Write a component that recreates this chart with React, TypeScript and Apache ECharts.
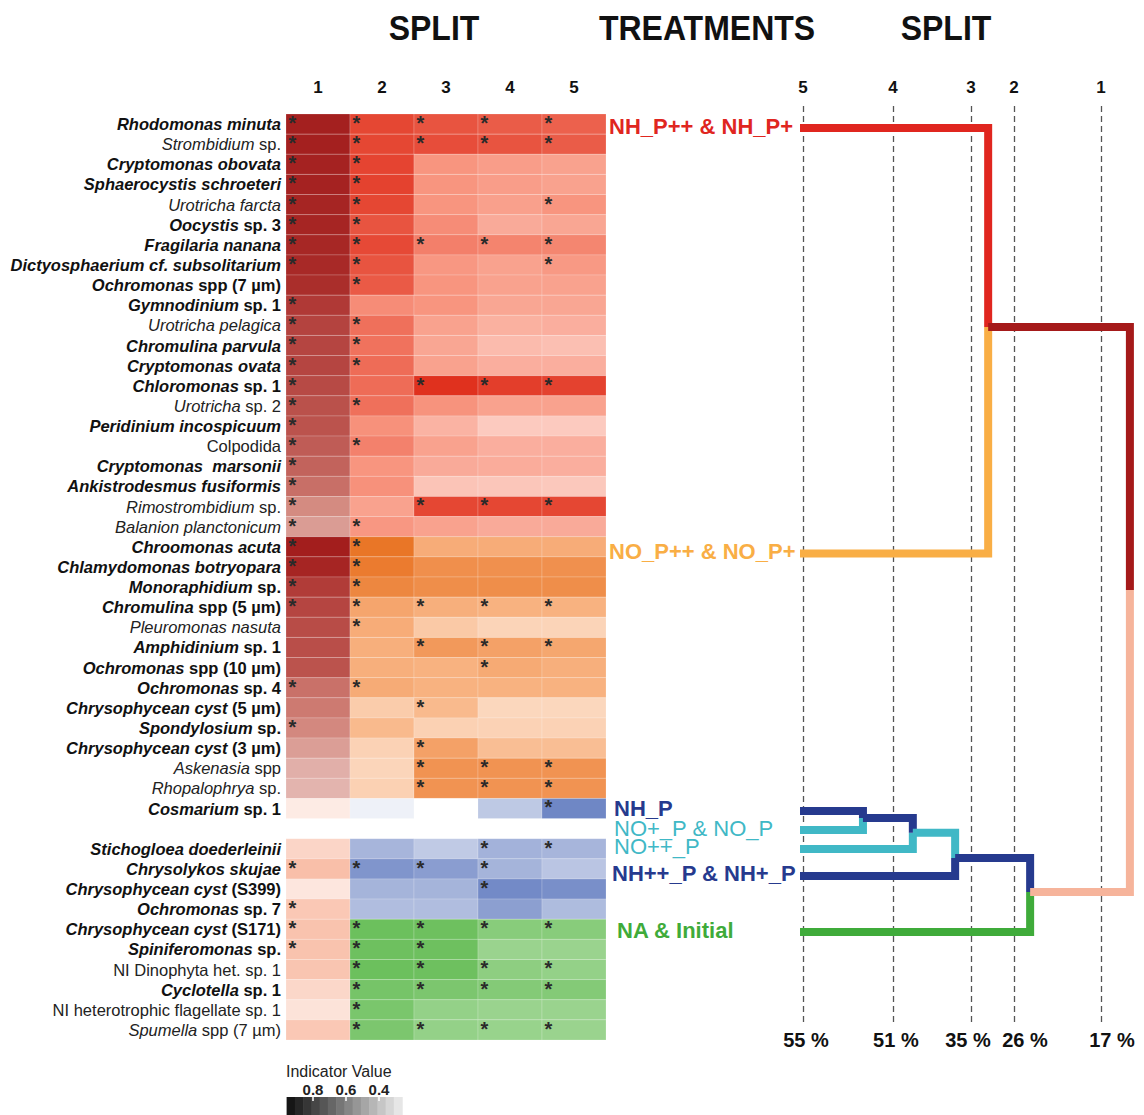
import React, { useEffect, useRef } from 'react';
import * as echarts from 'echarts';

// ---------------- DATA ----------------
const splitColumns = ['1', '2', '3', '4', '5'];

// [italic part, roman part, bold]
const taxa: [string, string, boolean][] = [
  ['Rhodomonas minuta', '', true],
  ['Strombidium', ' sp.', false],
  ['Cryptomonas obovata', '', true],
  ['Sphaerocystis schroeteri', '', true],
  ['Urotricha farcta', '', false],
  ['Oocystis', ' sp. 3', true],
  ['Fragilaria nanana', '', true],
  ['Dictyosphaerium cf. subsolitarium', '', true],
  ['Ochromonas', ' spp (7 µm)', true],
  ['Gymnodinium', ' sp. 1', true],
  ['Urotricha pelagica', '', false],
  ['Chromulina parvula', '', true],
  ['Cryptomonas ovata', '', true],
  ['Chloromonas', ' sp. 1', true],
  ['Urotricha', ' sp. 2', false],
  ['Peridinium incospicuum', '', true],
  ['', 'Colpodida', false],
  ['Cryptomonas  marsonii', '', true],
  ['Ankistrodesmus fusiformis', '', true],
  ['Rimostrombidium', ' sp.', false],
  ['Balanion planctonicum', '', false],
  ['Chroomonas acuta', '', true],
  ['Chlamydomonas botryopara', '', true],
  ['Monoraphidium', ' sp.', true],
  ['Chromulina', ' spp (5 µm)', true],
  ['Pleuromonas nasuta', '', false],
  ['Amphidinium', ' sp. 1', true],
  ['Ochromonas', ' spp (10 µm)', true],
  ['Ochromonas', ' sp. 4', true],
  ['Chrysophycean cyst', ' (5 µm)', true],
  ['Spondylosium', ' sp.', true],
  ['Chrysophycean cyst', ' (3 µm)', true],
  ['Askenasia', ' spp', false],
  ['Rhopalophrya', ' sp.', false],
  ['Cosmarium', ' sp. 1', true],
  ['', '', false],
  ['Stichogloea doederleinii', '', true],
  ['Chrysolykos skujae', '', true],
  ['Chrysophycean cyst', ' (S399)', true],
  ['Ochromonas', ' sp. 7', true],
  ['Chrysophycean cyst', ' (S171)', true],
  ['Spiniferomonas', ' sp.', true],
  ['', 'NI Dinophyta het. sp. 1', false],
  ['Cyclotella', ' sp. 1', true],
  ['', 'NI heterotrophic flagellate sp. 1', false],
  ['Spumella', ' spp (7 µm)', false],
];

// treatment cluster of each row: R = NH_P, O = NO_P, B = NH/NO_P, G = NA & Initial
const rowCluster = 'RRRRRRRRRR' + 'RRRRRRRRRR' + 'R' + 'OOOOOOOOOO' + 'OOO' + 'BBBBBB' + 'GGGGGG';

// indicator values per split column
const split1 = [0.94, 0.94, 0.93, 0.93, 0.92, 0.92, 0.91, 0.9, 0.88, 0.83, 0.79, 0.78, 0.78, 0.76, 0.73, 0.72, 0.68, 0.65, 0.6, 0.48, 0.41,
  0.95, 0.92, 0.82, 0.78, 0.75, 0.74, 0.72, 0.59, 0.55, 0.49, 0.4, 0.33, 0.31,
  0.2, null, 0.42, 0.64, 0.25, 0.55, 0.6, 0.6, 0.58, 0.4, 0.28, 0.55];
const split2 = [0.86, 0.86, 0.87, 0.88, 0.86, 0.8, 0.85, 0.8, 0.77, 0.54, 0.67, 0.66, 0.69, 0.69, 0.67, 0.52, 0.59, 0.5, 0.52, 0.44, 0.49,
  0.93, 0.89, 0.81, 0.59, 0.54, 0.52, 0.52, 0.55, 0.33, 0.45, 0.29, 0.27, 0.3,
  0.09, null, 0.46, 0.66, 0.47, 0.41, 0.9, 0.89, 0.9, 0.85, 0.83, 0.82];
const split3 = [0.8, 0.83, 0.5, 0.5, 0.5, 0.54, 0.6, 0.49, 0.5, 0.5, 0.44, 0.42, 0.44, 0.96, 0.51, 0.36, 0.44, 0.4, 0.28, 0.86, 0.44,
  0.54, 0.75, 0.76, 0.52, 0.35, 0.68, 0.5, 0.5, 0.45, 0.3, 0.62, 0.72, 0.72,
  0, null, 0.33, 0.61, 0.47, 0.41, 0.89, 0.89, 0.89, 0.82, 0.7, 0.7];
const split4 = [0.76, 0.8, 0.46, 0.46, 0.45, 0.4, 0.58, 0.44, 0.44, 0.42, 0.37, 0.32, 0.38, 0.9, 0.44, 0.25, 0.38, 0.39, 0.27, 0.86, 0.4,
  0.54, 0.74, 0.76, 0.5, 0.28, 0.62, 0.56, 0.5, 0.26, 0.29, 0.42, 0.72, 0.72,
  0.34, null, 0.48, 0.47, 0.73, 0.6, 0.76, 0.67, 0.73, 0.78, 0.67, 0.68];
const split5 = [0.74, 0.76, 0.44, 0.44, 0.5, 0.42, 0.57, 0.48, 0.44, 0.42, 0.38, 0.3, 0.38, 0.88, 0.44, 0.25, 0.38, 0.38, 0.26, 0.86, 0.4,
  0.54, 0.74, 0.76, 0.5, 0.28, 0.58, 0.52, 0.5, 0.26, 0.29, 0.42, 0.72, 0.72,
  0.75, null, 0.46, 0.36, 0.7, 0.42, 0.76, 0.67, 0.7, 0.78, 0.67, 0.67];

// significant indicator (asterisk) columns per row
const significant = ['12345', '12345', '12', '12', '125', '12', '12345', '125', '2', '1',
  '12', '12', '12', '1345', '12', '1', '12', '1', '1', '1345', '12',
  '12', '12', '12', '12345', '2', '345', '4', '12', '3', '1', '3', '345', '345',
  '5', '', '45', '1234', '4', '1', '12345', '123', '2345', '2345', '2', '2345'];

// dendrogram of treatments (height = linkage distance, row = vertical position in heatmap rows)
const dendroLeaves = [
  { id: 'nhp', label: 'NH_P++ & NH_P+', row: 0.7, color: '#e0261f', parent: 'E' },
  { id: 'nop', label: 'NO_P++ & NO_P+', row: 21.83, color: '#f9ae45', parent: 'E' },
  { id: 'nh', label: 'NH_P', row: 34.62, color: '#263a8e', parent: 'A' },
  { id: 'no', label: 'NO+_P & NO_P', row: 35.57, color: '#40b8c6', parent: 'A' },
  { id: 'nopp', label: 'NO++_P', row: 36.51, color: '#40b8c6', parent: 'B' },
  { id: 'nhpp', label: 'NH++_P & NH+_P', row: 37.85, color: '#263a8e', parent: 'C' },
  { id: 'na', label: 'NA & Initial', row: 40.64, color: '#3fab3a', parent: 'D' },
];
const dendroMerges = [
  { id: 'A', height: 18.3, row: 34.97, color: '#263a8e', parent: 'B' },
  { id: 'B', height: 32.8, row: 35.7, color: '#40b8c6', parent: 'C' },
  { id: 'C', height: 45.1, row: 36.96, color: '#263a8e', parent: 'D' },
  { id: 'D', height: 66.9, row: 38.65, color: '#f6b49b', parent: 'F' },
  { id: 'E', height: 54.7, row: 10.58, color: '#a51a1a', parent: 'F' },
  { id: 'F', height: 95.9, row: 23.65, color: '', parent: '' },
];

const splitNumbers = ['5', '4', '3', '2', '1'];
const splitSimilarity = ['55 %', '51 %', '35 %', '26 %', '17 %'];
const splitHeights = [0.87, 27.0, 49.7, 62.2, 87.5];

const legendTicks = [0.8, 0.6, 0.4];
const legendSteps = [0.96, 0.91, 0.86, 0.81, 0.76, 0.71, 0.66, 0.61, 0.56, 0.51, 0.46, 0.41, 0.36, 0.31];

// ---------------- STYLE / LAYOUT ----------------
// colour ramps: [colour at indicator value 0.5, colour at 1.0] (0 = white)
const ramps: Record<string, number[][]> = {
  D: [[210, 134, 124], [158, 18, 18]],
  S: [[250, 205, 188], [245, 154, 120]],
  R: [[248, 149, 127], [222, 40, 22]],
  O: [[248, 178, 128], [231, 108, 24]],
  B: [[159, 175, 216], [63, 95, 178]],
  G: [[188, 226, 178], [88, 183, 72]],
};
const leafLabelDx = [-191, -191, -186, -186, -186, -188, -183];
const leafLabelWeight = ['bold', 'bold', 'bold', 'normal', 'normal', 'bold', 'bold'];
const leafLabelSize = [22, 22, 22, 22, 22, 22, 22];
const percentLabelDx = [3, 3, -3, 11, 11];
const FONT = '"Liberation Sans", Arial, Helvetica, sans-serif';

const HEAT_LEFT = 286, HEAT_TOP = 114, HEAT_W = 320, HEAT_H = 926;
const DEN_LEFT = 800, DEN_W = 344, DEN_TOP = 60, DEN_H = 1000;
const rowPx = HEAT_H / taxa.length;
const pxToRow = (py: number) => (py - HEAT_TOP) / rowPx;

function rampColor(key: string, t: number) {
  const [mid, full] = ramps[key];
  let c: number[];
  if (t <= 0.5) {
    const f = t / 0.5;
    c = mid.map((m) => 255 + (m - 255) * f);
  } else {
    const f = (t - 0.5) / 0.5;
    c = mid.map((m, i) => m + (full[i] - m) * f);
  }
  return `rgb(${Math.round(c[0])},${Math.round(c[1])},${Math.round(c[2])})`;
}

function buildOption() {
  const cols = [split1, split2, split3, split4, split5];
  const heatData: any[] = [];
  const heatColors: string[] = [];
  const heatStars: boolean[] = [];
  taxa.forEach((_, r) => {
    cols.forEach((col, c) => {
      const v = col[r];
      if (v === null || v === undefined) return;
      const cl = rowCluster[r];
      const key = c === 0 ? (cl === 'R' || cl === 'O' ? 'D' : 'S') : cl;
      heatData.push([c, r, v]);
      heatColors.push(rampColor(key, v));
      heatStars.push(significant[r].indexOf(String(c + 1)) >= 0);
    });
  });

  const renderCell = (params: any, api: any) => {
    const center = api.coord([api.value(0), api.value(1)]);
    const size = api.size([1, 1]);
    const x0 = center[0] - size[0] / 2;
    const y0 = center[1] - size[1] / 2;
    const children: any[] = [
      {
        type: 'rect',
        shape: { x: x0, y: y0, width: size[0], height: size[1] },
        style: { fill: heatColors[params.dataIndex], stroke: 'rgba(255,255,255,0.3)', lineWidth: 0.6 },
      },
    ];
    if (heatStars[params.dataIndex]) {
      children.push({
        type: 'text',
        x: x0 + 2.5,
        y: y0 - 1,
        style: { text: '*', fontSize: 20, fontWeight: 'bold', fontFamily: FONT, fill: '#2a2a2a', align: 'left', verticalAlign: 'top' },
      });
    }
    return { type: 'group', children };
  };

  const nodes: Record<string, any> = {};
  dendroLeaves.forEach((l) => (nodes[l.id] = { ...l, height: 0 }));
  dendroMerges.forEach((m) => (nodes[m.id] = m));
  const segs: any[] = [];
  [...dendroLeaves.map((l) => l.id), ...dendroMerges.map((m) => m.id)].forEach((id) => {
    const n = nodes[id];
    if (!n.parent) return;
    const p = nodes[n.parent];
    segs.push({
      coords: [[n.height, n.row], [p.height, n.row], [p.height, p.row]],
      lineStyle: { color: n.color },
    });
  });

  const dashed = splitHeights.map((h) => ({ coords: [[h, pxToRow(106)], [h, pxToRow(1022)]] }));

  const splitLabelData = [
    ...splitHeights.map((h, i) => ({
      value: [h, pxToRow(87)],
      label: { show: true, formatter: splitNumbers[i], fontSize: 17, fontWeight: 'bold', color: '#111', position: 'inside' },
    })),
    ...splitHeights.map((h, i) => ({
      value: [h, pxToRow(1040)],
      label: { show: true, formatter: splitSimilarity[i], fontSize: 20, fontWeight: 'bold', color: '#111', position: 'inside', offset: [percentLabelDx[i], 0] },
    })),
  ];

  const leafLabelData = dendroLeaves.map((l, i) => ({
    value: [0, l.row],
    label: {
      show: true,
      formatter: l.label,
      position: [leafLabelDx[i], -2],
      align: 'left',
      verticalAlign: 'middle',
      color: l.color,
      fontSize: leafLabelSize[i],
      fontWeight: leafLabelWeight[i],
    },
  }));

  const lx = (v: number) => 313 + (0.8 - v) * 165;
  const legendGraphics: any[] = [
    { type: 'text', x: 286, y: 1071, style: { text: 'Indicator Value', fontSize: 16, fontFamily: FONT, fill: '#222', verticalAlign: 'middle', align: 'left' } },
    ...legendTicks.map((t) => ({
      type: 'text', x: lx(t), y: 1089, style: { text: t.toFixed(1), fontSize: 15, fontWeight: 'bold', fontFamily: FONT, fill: '#222', align: 'center', verticalAlign: 'middle' },
    })),
    ...legendSteps.map((s) => {
      const g = Math.round(Math.min(245, 22 + (0.96 - s) * 320));
      return { type: 'rect', shape: { x: lx(s), y: 1097, width: 0.05 * 165 + 0.6, height: 18 }, style: { fill: `rgb(${g},${g},${g})` } };
    }),
    ...legendTicks.map((t) => ({ type: 'rect', shape: { x: lx(t) - 0.75, y: 1097, width: 1.5, height: 4 }, style: { fill: '#fff' } })),
  ];

  const titleStyle = (text: string, x: number) => ({
    type: 'text', x, y: 28, scaleY: 1.08,
    style: { text, fontSize: 32, fontWeight: 'bold', fontFamily: FONT, fill: '#111', align: 'center', verticalAlign: 'middle' },
  });

  return {
    animation: false,
    backgroundColor: '#fff',
    textStyle: { fontFamily: FONT },
    grid: [
      { left: HEAT_LEFT, top: HEAT_TOP, width: HEAT_W, height: HEAT_H },
      { left: DEN_LEFT, top: DEN_TOP, width: DEN_W, height: DEN_H },
    ],
    xAxis: [
      {
        gridIndex: 0, type: 'category', data: splitColumns, position: 'top',
        axisLine: { show: false }, axisTick: { show: false }, splitLine: { show: false },
        axisLabel: { fontSize: 17, fontWeight: 'bold', color: '#111', margin: 18, fontFamily: FONT },
      },
      { gridIndex: 1, type: 'value', min: 0, max: 100, show: false },
    ],
    yAxis: [
      {
        gridIndex: 0, type: 'category', inverse: true,
        data: taxa.map((t) => t[0] + t[1]),
        axisLine: { show: false }, axisTick: { show: false }, splitLine: { show: false },
        axisLabel: {
          interval: 0, margin: 5,
          formatter: (_v: string, i: number) => {
            const [it, ro, bold] = taxa[i];
            let s = '';
            if (it) s += `{${bold ? 'bi' : 'i'}|${it}}`;
            if (ro) s += `{${bold ? 'b' : 'n'}|${ro}}`;
            return s;
          },
          rich: {
            bi: { fontSize: 16.5, fontWeight: 'bold', fontStyle: 'italic', color: '#111', fontFamily: FONT },
            b: { fontSize: 16.5, fontWeight: 'bold', color: '#111', fontFamily: FONT },
            i: { fontSize: 16.5, fontStyle: 'italic', color: '#222', fontFamily: FONT },
            n: { fontSize: 16.5, color: '#222', fontFamily: FONT },
          },
        },
      },
      { gridIndex: 1, type: 'value', inverse: true, min: pxToRow(DEN_TOP), max: pxToRow(DEN_TOP + DEN_H), show: false },
    ],
    series: [
      {
        type: 'custom', xAxisIndex: 0, yAxisIndex: 0, data: heatData,
        renderItem: renderCell, silent: true,
      },
      {
        type: 'lines', coordinateSystem: 'cartesian2d', xAxisIndex: 1, yAxisIndex: 1, silent: true, z: 1,
        data: dashed, lineStyle: { color: '#555', width: 1.3, type: [6, 4], opacity: 1 },
      },
      {
        type: 'lines', coordinateSystem: 'cartesian2d', xAxisIndex: 1, yAxisIndex: 1, silent: true, z: 3,
        polyline: true, data: segs, lineStyle: { width: 8, opacity: 1, cap: 'butt', join: 'miter' },
      },
      {
        type: 'scatter', xAxisIndex: 1, yAxisIndex: 1, symbolSize: 0, silent: true, z: 4,
        itemStyle: { opacity: 1 }, data: leafLabelData,
      },
      {
        type: 'scatter', xAxisIndex: 1, yAxisIndex: 1, symbolSize: 0, silent: true, z: 4,
        itemStyle: { opacity: 1 }, data: splitLabelData,
      },
    ],
    graphic: [
      titleStyle('SPLIT', 434),
      titleStyle('TREATMENTS', 707),
      titleStyle('SPLIT', 946),
      ...legendGraphics,
    ],
  };
}

export default function App() {
  const ref = useRef<HTMLDivElement>(null);
  useEffect(() => {
    if (!ref.current) return;
    const chart = echarts.init(ref.current, null, { renderer: 'svg' });
    chart.setOption(buildOption() as any);
    return () => chart.dispose();
  }, []);
  return (
    <div
      ref={ref}
      style={{ position: 'absolute', left: 0, top: 0, width: 1144, height: 1115, background: '#fff' }}
    />
  );
}
